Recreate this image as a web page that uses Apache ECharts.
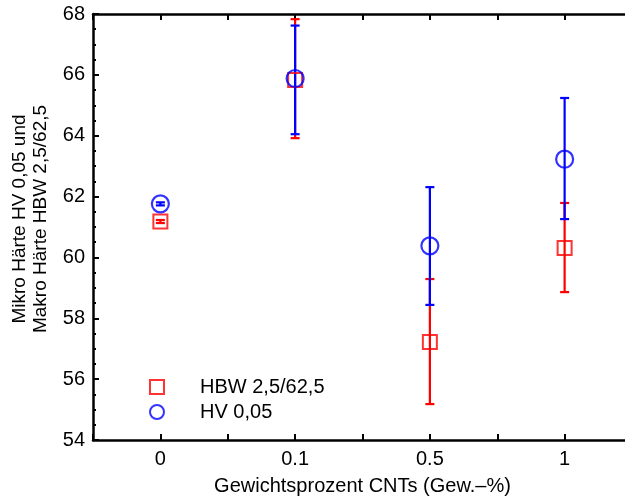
<!DOCTYPE html>
<html><head><meta charset="utf-8">
<script src="https://cdn.jsdelivr.net/npm/echarts@6/dist/echarts.min.js"></script>
<style>html,body{margin:0;padding:0;background:#fff}#c{width:625px;height:498px}</style>
</head><body><div id="c"></div>
<script>
var categories = ['0', '0.1', '0.5', '1'];
var hbwMean = [61.18, 65.83, 57.22, 60.31];
var hbwLow  = [61.13, 63.92, 55.18, 58.86];
var hbwHigh = [61.23, 67.83, 59.29, 61.79];
var hvMean  = [61.76, 65.88, 60.38, 63.23];
var hvLow   = [61.71, 64.05, 58.44, 61.26];
var hvHigh  = [61.81, 67.62, 62.31, 65.24];
var yTicks = [54, 56, 58, 60, 62, 64, 66, 68];

var chart = echarts.init(document.getElementById('c'));
var FONT = 'Liberation Sans';

function pts(mean) { return mean.map(function (v, i) { return [i + 1, v]; }); }
function errs(lo, hi) { return lo.map(function (v, i) { return [i + 1, v, hi[i]]; }); }
function errRender(color) {
  return function (params, api) {
    var x = api.value(0);
    var p1 = api.coord([x, api.value(1)]);
    var p2 = api.coord([x, api.value(2)]);
    var w = 4.5;
    var st = { stroke: color, lineWidth: 2.2 };
    return { type: 'group', children: [
      { type: 'line', shape: { x1: p1[0], y1: p1[1], x2: p2[0], y2: p2[1] }, style: st },
      { type: 'line', shape: { x1: p1[0] - w, y1: p1[1], x2: p1[0] + w, y2: p1[1] }, style: st },
      { type: 'line', shape: { x1: p2[0] - w, y1: p2[1], x2: p2[0] + w, y2: p2[1] }, style: st }
    ]};
  };
}
var axisLine = { lineStyle: { color: '#000', width: 2.5 } };
var tick = { inside: true, length: 6, lineStyle: { color: '#000', width: 2 } };

chart.setOption({
  animation: false,
  backgroundColor: '#fff',
  textStyle: { fontFamily: FONT },
  grid: { left: 93, right: -7, top: 14, bottom: 58, outerBoundsMode: 'none', containLabel: false },
  legend: {
    orient: 'vertical', left: 144, top: 372, itemWidth: 14, itemHeight: 14, itemGap: 5,
    textStyle: { fontFamily: FONT, fontSize: 20, color: '#000', padding: [0, 0, 0, 31] },
    data: ['HBW 2,5/62,5', 'HV 0,05']
  },
  xAxis: [{
    type: 'value', min: 0.5, max: 4.5, interval: 0.5, position: 'bottom',
    name: 'Gewichtsprozent CNTs (Gew.–%)', nameLocation: 'middle', nameGap: 36,
    nameTextStyle: { fontFamily: FONT, fontSize: 20, color: '#000' },
    axisLine: axisLine, axisTick: tick, splitLine: { show: false },
    axisLabel: { fontFamily: FONT, fontSize: 20, color: '#000', margin: 9,
      formatter: function (v) { return (Math.abs(v - Math.round(v)) < 1e-6 && categories[v - 1] !== undefined) ? categories[v - 1] : ''; } }
  }, {
    type: 'value', min: 0.5, max: 4.5, interval: 0.5, position: 'top',
    axisLine: axisLine, axisTick: tick, axisLabel: { show: false }, splitLine: { show: false }
  }],
  yAxis: {
    type: 'value', min: 54, max: 68, interval: 2,
    name: 'Mikro Härte HV 0,05 und\nMakro Härte HBW 2,5/62,5', nameLocation: 'middle', nameGap: 42, nameRotate: 90,
    nameTextStyle: { fontFamily: FONT, fontSize: 19, color: '#000', lineHeight: 21, padding: [0, 0, 0, 16] },
    axisLine: axisLine, axisTick: tick,
    minorTick: { show: true, splitNumber: 4, length: 3, lineStyle: { color: '#000', width: 2 } },
    splitLine: { show: false },
    axisLabel: { fontFamily: FONT, fontSize: 20, color: '#000', margin: 8,
      formatter: function (v) { return yTicks.indexOf(v) >= 0 ? String(v) : ''; } }
  },
  series: [
    { type: 'custom', name: 'errHBW', renderItem: errRender('#ff0000'), data: errs(hbwLow, hbwHigh), encode: { x: 0, y: [1, 2] }, z: 2 },
    { type: 'custom', name: 'errHV', renderItem: errRender('#0000ff'), data: errs(hvLow, hvHigh), encode: { x: 0, y: [1, 2] }, z: 3 },
    { type: 'scatter', name: 'HBW 2,5/62,5', symbol: 'rect', symbolSize: 14, data: pts(hbwMean),
      itemStyle: { color: 'rgba(255,255,255,0)', borderColor: '#ff0000', borderWidth: 2 }, z: 4 },
    { type: 'scatter', name: 'HV 0,05', symbol: 'circle', symbolSize: 17, data: pts(hvMean),
      itemStyle: { color: 'rgba(255,255,255,0)', borderColor: '#0000ff', borderWidth: 2.2 }, z: 5 }
  ]
});
</script></body></html>
